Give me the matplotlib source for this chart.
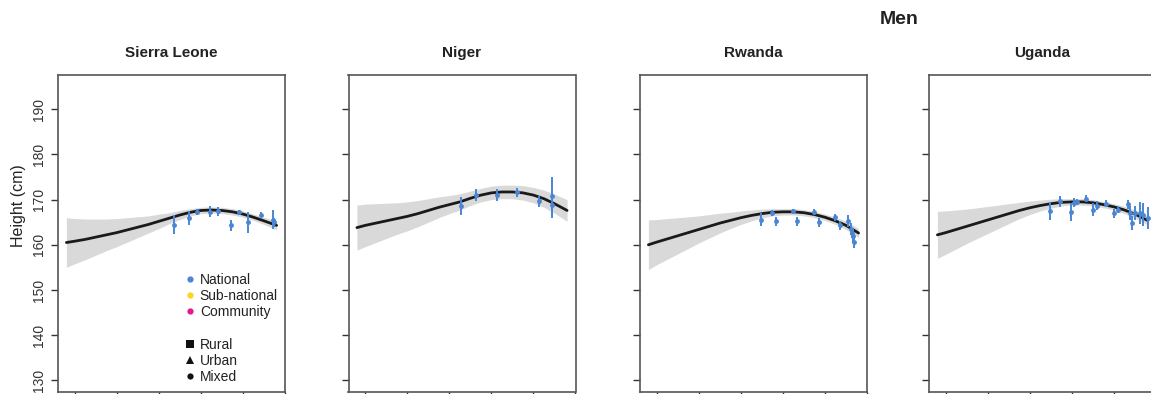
import matplotlib
matplotlib.use("Agg")
import matplotlib.pyplot as plt
from matplotlib.lines import Line2D
import numpy as np

plt.rcParams['font.family'] = ['Liberation Sans', 'DejaVu Sans']

# birth cohorts of the fitted curve
anos = [1896, 1900, 1905, 1910, 1915, 1920, 1925, 1930, 1935, 1940, 1945,
        1950, 1955, 1960, 1965, 1970, 1975, 1980, 1985, 1990, 1996]

paises = ["Sierra Leone", "Niger", "Rwanda", "Uganda"]

# fitted mean height (cm)
curva_sl = [160.5, 160.8, 161.2, 161.7, 162.2, 162.7, 163.3, 163.9, 164.5, 165.2, 165.9,
            166.6, 167.2, 167.6, 167.7, 167.6, 167.3, 166.8, 166.1, 165.3, 164.3]
curva_ne = [163.8, 164.3, 164.8, 165.3, 165.8, 166.3, 166.9, 167.6, 168.3, 168.9, 169.5,
            170.3, 171.0, 171.5, 171.7, 171.7, 171.5, 171.0, 170.2, 169.1, 167.6]
curva_rw = [160.0, 160.6, 161.3, 162.0, 162.7, 163.4, 164.1, 164.8, 165.4, 166.0, 166.5,
            166.9, 167.2, 167.3, 167.3, 167.1, 166.7, 166.1, 165.3, 164.3, 162.6]
curva_ug = [162.2, 162.7, 163.4, 164.1, 164.8, 165.5, 166.2, 166.9, 167.6, 168.2, 168.7,
            169.1, 169.4, 169.5, 169.5, 169.3, 168.9, 168.4, 167.7, 166.8, 165.4]

# half width of the uncertainty band (cm)
banda_sl = [5.5, 5.0, 4.5, 4.0, 3.5, 3.1, 2.7, 2.3, 1.9, 1.6, 1.2,
            1.0, 0.8, 0.7, 0.7, 0.7, 0.7, 0.7, 0.7, 0.8, 1.0]
banda_ne = [5.0, 4.7, 4.3, 3.9, 3.5, 3.2, 2.9, 2.6, 2.3, 2.0, 1.8,
            1.6, 1.5, 1.5, 1.5, 1.5, 1.6, 1.7, 1.9, 2.1, 2.4]
banda_rw = [5.5, 5.0, 4.5, 4.0, 3.5, 3.0, 2.6, 2.2, 1.8, 1.5, 1.2,
            1.0, 0.8, 0.7, 0.7, 0.7, 0.7, 0.7, 0.8, 0.9, 1.0]
banda_ug = [5.2, 4.8, 4.3, 3.8, 3.4, 3.0, 2.6, 2.2, 1.8, 1.5, 1.2,
            1.0, 0.8, 0.7, 0.7, 0.7, 0.7, 0.7, 0.8, 0.9, 1.0]

# national survey data: year, height, error half-length
pts_sl_ano = [1947.4, 1954.4, 1958.3, 1964.4, 1968.3, 1974.4, 1978.2, 1982.3, 1988.5, 1994.5, 1995.0]
pts_sl_alt = [164.4, 165.9, 167.3, 167.3, 167.4, 164.3, 167.3, 165.0, 166.7, 165.6, 165.0]
pts_sl_err = [2.1, 1.5, 0.7, 1.2, 1.0, 1.3, 0.5, 2.3, 0.5, 2.0, 1.0]

pts_ne_ano = [1945.4, 1952.6, 1962.6, 1972.4, 1982.6, 1988.8, 1989.0]
pts_ne_alt = [168.5, 171.0, 171.0, 171.6, 169.6, 170.7, 168.9]
pts_ne_err = [2.0, 1.3, 1.3, 1.0, 1.2, 4.3, 3.0]

pts_rw_ano = [1949.5, 1954.7, 1956.8, 1965.0, 1966.9, 1974.9, 1977.0, 1984.9, 1987.0,
              1991.0, 1992.4, 1993.0, 1993.4, 1994.0]
pts_rw_alt = [165.6, 167.0, 165.2, 167.4, 165.2, 167.2, 165.0, 166.1, 164.3,
              165.2, 163.5, 162.6, 161.9, 160.7]
pts_rw_err = [1.5, 0.7, 1.0, 0.5, 1.0, 0.7, 1.0, 0.8, 1.0,
              1.3, 1.3, 1.2, 1.5, 1.5]

pts_ug_ano = [1949.6, 1954.4, 1959.6, 1961.0, 1962.3, 1966.6, 1969.8, 1971.9, 1976.3,
              1979.8, 1981.7, 1986.6, 1987.7, 1988.7, 1990.1, 1992.5, 1994.0, 1996.4]
pts_ug_alt = [167.4, 169.6, 167.2, 169.3, 169.5, 170.2, 167.8, 168.7, 169.1,
              167.0, 167.8, 169.0, 167.0, 164.8, 167.0, 167.0, 166.7, 165.9]
pts_ug_err = [2.0, 1.3, 2.0, 1.0, 0.7, 0.8, 1.5, 1.0, 0.8,
              1.0, 0.8, 1.0, 1.5, 1.5, 1.5, 2.5, 2.5, 2.5]

curvas = [curva_sl, curva_ne, curva_rw, curva_ug]
bandas = [banda_sl, banda_ne, banda_rw, banda_ug]
pontos = [(pts_sl_ano, pts_sl_alt, pts_sl_err),
          (pts_ne_ano, pts_ne_alt, pts_ne_err),
          (pts_rw_ano, pts_rw_alt, pts_rw_err),
          (pts_ug_ano, pts_ug_alt, pts_ug_err)]

azul = '#4a86d4'
W, H = 1151, 394
esquerdas = [58, 348.5, 640, 929]
fig = plt.figure(figsize=(W / 100, H / 100), dpi=100)

for k, nome in enumerate(paises):
    ax = fig.add_axes([esquerdas[k] / W, (H - 392) / H, 227 / W, 317 / H])
    c = np.array(curvas[k])
    b = np.array(bandas[k])
    ax.fill_between(anos, c - b, c + b, color='#d9d9d9', lw=0)
    ax.plot(anos, c, color='#1a1a1a', lw=2.0, solid_capstyle='round',
            solid_joinstyle='round')
    xa, ya, ea = pontos[k]
    ax.errorbar(xa, ya, yerr=ea, fmt='o', color=azul, ms=3.5, elinewidth=1.4,
                capsize=0, mew=0)
    ax.set_xlim(1892, 2000)
    ax.set_ylim(127.4, 197.6)
    ax.set_xticks([1900, 1920, 1940, 1960, 1980, 2000])
    ax.set_xticklabels([])
    ax.set_yticks([130, 140, 150, 160, 170, 180, 190])
    for s in ax.spines.values():
        s.set_color('#555555')
        s.set_linewidth(1.2)
    ax.tick_params(direction='out', length=5, width=1.0, color='#333333')
    if k == 0:
        ax.set_yticklabels(ax.get_yticks(), rotation=90, va='center',
                           fontsize=10, color='#333333')
    else:
        ax.set_yticklabels([])
    fig.text((esquerdas[k] + 113.5) / W, 1 - 53 / H, nome, ha='center', va='center',
             fontsize=11, fontweight='bold', color='#222222')

    if k == 0:
        h1 = [Line2D([], [], ls='', marker='o', ms=4.5, mew=0, color=cor)
              for cor in [azul, '#ffd21f', '#e8178a']]
        leg1 = ax.legend(h1, ['National', 'Sub-national', 'Community'],
                         loc='upper left', bbox_to_anchor=(0.533, 0.397), frameon=False,
                         fontsize=10, handlelength=0.6, handletextpad=0.4,
                         labelspacing=0.15, borderpad=0, labelcolor='#222222')
        ax.add_artist(leg1)
        h2 = [Line2D([], [], ls='', marker=m, ms=ms, mew=0, color='#111111')
              for m, ms in [('s', 5.5), ('^', 6), ('o', 4.5)]]
        ax.legend(h2, ['Rural', 'Urban', 'Mixed'],
                  loc='upper left', bbox_to_anchor=(0.533, 0.193), frameon=False,
                  fontsize=10, handlelength=0.6, handletextpad=0.4,
                  labelspacing=0.15, borderpad=0, labelcolor='#222222')

fig.text(19 / W, 1 - 206 / H, 'Height (cm)', rotation=90, ha='center', va='center',
         fontsize=11.5, color='#222222')
fig.text(899 / W, 1 - 20 / H, 'Men', ha='center', va='center', fontsize=14,
         fontweight='bold', color='#222222')

fig.savefig('out.png', dpi=100)
